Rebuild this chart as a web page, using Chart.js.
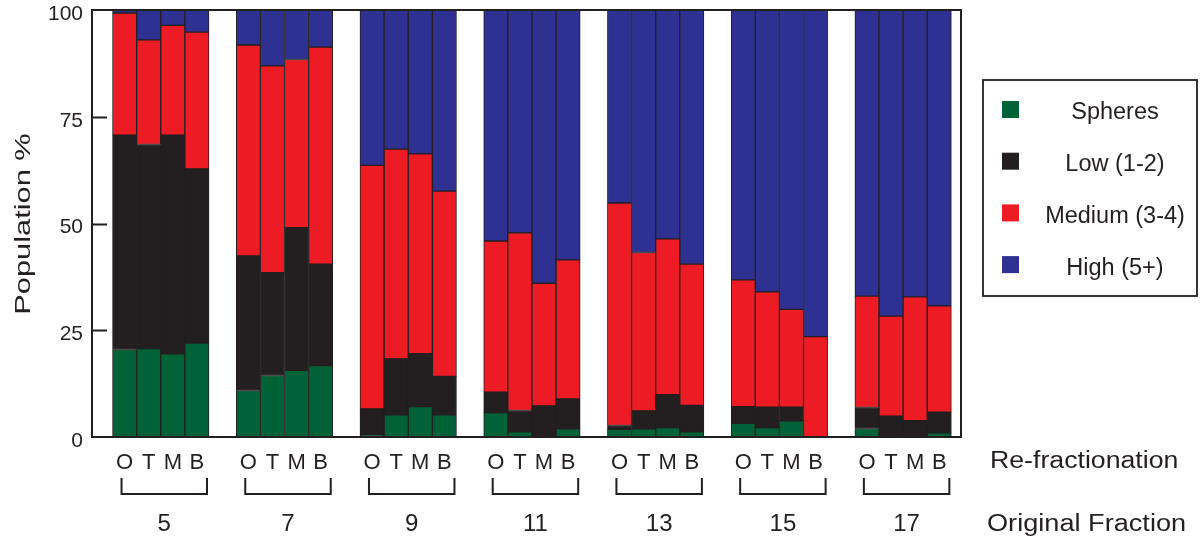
<!DOCTYPE html>
<html>
<head>
<meta charset="utf-8">
<script src="https://cdn.jsdelivr.net/npm/chart.js@4.4.1/dist/chart.umd.min.js"></script>
<style>
  html, body { margin: 0; padding: 0; background: #fff; }
  #wrap { width: 1203px; height: 540px; }
</style>
</head>
<body>
<div id="wrap"><canvas id="popChart" width="1203" height="540"></canvas></div>
<script>
const originalFractions = ['5', '7', '9', '11', '13', '15', '17'];
const refractions = ['O', 'T', 'M', 'B'];

// population % per bar: one row per original fraction, columns O T M B
const spheres = [
  20.5, 20.7, 19.5, 22.0,
  10.9, 14.4, 15.6, 16.7,
   0.5,  5.2,  7.1,  5.2,
   5.7,  1.2,  0.0,  1.9,
   1.8,  1.9,  2.2,  1.2,
   3.2,  2.2,  3.8,  0.0,
   2.0,  0.0,  0.0,  1.0
];
const lowClusters = [
  50.2, 47.8, 51.2, 40.8,
  31.5, 24.1, 33.4, 23.8,
   6.1, 13.1, 12.4,  9.0,
   4.8,  5.0,  7.3,  7.0,
   0.9,  4.2,  7.7,  6.2,
   3.9,  4.8,  3.2,  0.0,
   4.9,  4.9,  3.8,  4.8
];
const mediumClusters = [
  28.6, 24.5, 25.7, 32.0,
  49.4, 48.4, 39.4, 50.8,
  57.0, 49.1, 46.8, 43.4,
  35.4, 41.6, 28.7, 32.6,
  52.1, 37.1, 36.5, 33.1,
  29.7, 27.0, 22.9, 23.5,
  26.1, 23.4, 29.0, 24.9
];
const highClusters = [
   0.7,  7.0,  3.6,  5.2,
   8.2, 13.1, 11.6,  8.7,
  36.4, 32.6, 33.7, 42.4,
  54.1, 52.2, 64.0, 58.5,
  45.2, 56.8, 53.6, 59.5,
  63.2, 66.0, 70.1, 76.5,
  67.0, 71.7, 67.2, 69.3
];
const yTicks = [0, 25, 50, 75, 100];

const INK = '#231f20';
const FONT = '"Liberation Sans", Arial, Helvetica, sans-serif';

// bars sit one unit apart inside a group, groups are spaced a bit wider
const GROUP_STEP = 5.13;
const barX = i => Math.floor(i / refractions.length) * GROUP_STEP + (i % refractions.length);
const barPositions = spheres.map((_, i) => barX(i));

function series(label, values, color) {
  return {
    label: label,
    data: values.map((v, i) => ({ x: barX(i), y: v })),
    backgroundColor: color,
    borderColor: INK,
    borderWidth: 1,
    borderSkipped: false,
    barPercentage: 1,
    categoryPercentage: 1
  };
}

function stretchedText(ctx, text, x, y, size, sx, angle) {
  ctx.save();
  ctx.translate(x, y);
  if (angle) ctx.rotate(angle);
  ctx.scale(sx, 1);
  ctx.font = size + 'px ' + FONT;
  ctx.fillText(text, 0, 0);
  ctx.restore();
}

// frame, inward ticks, group brackets, axis captions and the boxed legend
const decorations = {
  id: 'decorations',
  afterDraw(chart) {
    const ctx = chart.ctx;
    const area = chart.chartArea;
    const ys = chart.scales.y;
    ctx.save();
    ctx.strokeStyle = INK;
    ctx.fillStyle = INK;
    ctx.lineWidth = 2;
    ctx.strokeRect(area.left - 1, area.top, area.right - area.left + 1, area.bottom - area.top);

    ctx.beginPath();
    yTicks.slice(1, -1).forEach(v => {
      const y = Math.round(ys.getPixelForValue(v)) + 0.5;
      ctx.moveTo(area.left, y);
      ctx.lineTo(area.left + 14, y);
    });
    ctx.stroke();

    const bars = chart.getDatasetMeta(0).data;
    ctx.textAlign = 'center';
    ctx.textBaseline = 'middle';
    originalFractions.forEach((name, g) => {
      const first = bars[g * refractions.length];
      const last = bars[g * refractions.length + refractions.length - 1];
      const x0 = first.x - first.width / 2 + 9;
      const x1 = last.x + last.width / 2 - 2;
      ctx.beginPath();
      ctx.moveTo(x0, 478);
      ctx.lineTo(x0, 494);
      ctx.lineTo(x1, 494);
      ctx.lineTo(x1, 478);
      ctx.stroke();
      ctx.font = '24px ' + FONT;
      ctx.fillText(name, (x0 + x1) / 2, 524);
    });

    ctx.textAlign = 'left';
    stretchedText(ctx, 'Re-fractionation', 990, 462, 23, 1.16, 0);
    stretchedText(ctx, 'Original Fraction', 987, 525, 23, 1.18, 0);
    ctx.textAlign = 'center';
    stretchedText(ctx, 'Population %', 24, 224, 22, 1.4, -Math.PI / 2);

    // legend
    const box = { left: 983, top: 80, right: 1197, bottom: 296 };
    ctx.lineWidth = 1.8;
    ctx.strokeRect(box.left, box.top, box.right - box.left, box.bottom - box.top);
    ctx.font = '23.5px ' + FONT;
    chart.data.datasets.forEach((ds, i) => {
      const cy = 110 + i * 51.7;
      ctx.fillStyle = ds.backgroundColor;
      ctx.fillRect(1002, cy - 9, 17, 17);
      ctx.fillStyle = INK;
      ctx.fillText(ds.label, 1115, cy + 3);
    });
    ctx.restore();
  }
};

new Chart(document.getElementById('popChart'), {
  type: 'bar',
  data: {
    datasets: [
      series('Spheres', spheres, '#006236'),
      series('Low (1-2)', lowClusters, '#231f20'),
      series('Medium (3-4)', mediumClusters, '#ed1c24'),
      series('High (5+)', highClusters, '#2e3192')
    ]
  },
  options: {
    responsive: false,
    animation: false,
    devicePixelRatio: 1,
    layout: { padding: { top: 10, right: 242, bottom: 0, left: 0 } },
    plugins: {
      legend: { display: false },
      tooltip: { enabled: false }
    },
    scales: {
      x: {
        type: 'linear',
        stacked: true,
        offset: false,
        min: -1.31,
        max: barPositions[barPositions.length - 1] + 0.9,
        grid: { display: false, drawTicks: false },
        border: { display: false },
        afterBuildTicks: axis => {
          axis.ticks = barPositions.map(v => ({ value: v }));
        },
        afterFit: axis => { axis.height = 103; },
        ticks: {
          autoSkip: false,
          maxRotation: 0,
          padding: 13,
          color: INK,
          font: { family: FONT, size: 22 },
          callback: (value, index) => refractions[index % refractions.length]
        }
      },
      y: {
        stacked: true,
        min: 0,
        max: 100,
        grid: { display: false, drawTicks: false },
        border: { display: false },
        afterBuildTicks: axis => {
          axis.ticks = yTicks.map(v => ({ value: v }));
        },
        afterFit: axis => {
          axis.width = 93;
          // let the "100" label hang above the plot instead of pushing it down
          axis.paddingTop = 0;
          axis.paddingBottom = 0;
        },
        ticks: {
          padding: 10,
          labelOffset: 4,
          color: INK,
          font: { family: FONT, size: 21 }
        }
      }
    }
  },
  plugins: [decorations]
});
</script>
</body>
</html>
